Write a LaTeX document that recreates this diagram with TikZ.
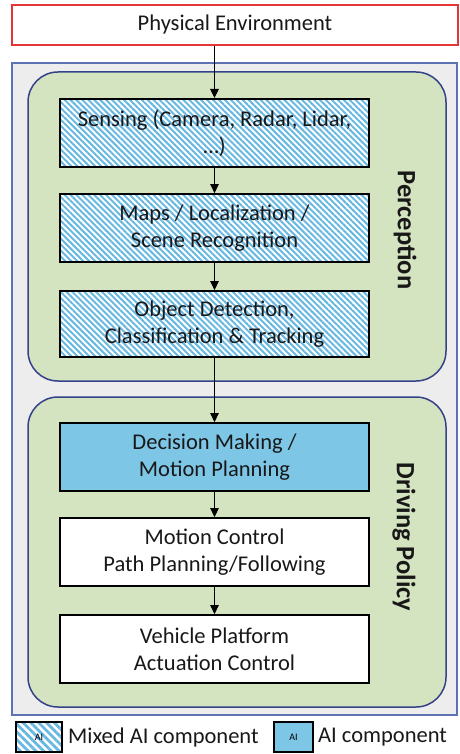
\documentclass[tikz,border=0pt]{standalone}
\usepackage{fontspec}
\setmainfont{Carlito}
\usepackage{xcolor}
\usetikzlibrary{arrows.meta,positioning,patterns.meta}

\definecolor{envred}{RGB}{228,54,54}
\definecolor{bggray}{RGB}{237,237,237}
\definecolor{frameblue}{RGB}{92,114,178}
\definecolor{stagegreen}{RGB}{213,228,192}
\definecolor{stageblue}{RGB}{52,66,138}
\definecolor{aiblue}{RGB}{126,198,230}
\definecolor{hatchblue}{RGB}{104,184,226}
\definecolor{txtgray}{RGB}{24,24,24}

\begin{document}
\begin{tikzpicture}[x=1pt,y=-1pt,>={Triangle[length=9pt,width=8.5pt]},
    font=\fontsize{22.5}{27}\selectfont,
    stagebox/.style={draw=black,line width=1.8pt,minimum width=309pt,
      minimum height=68pt,align=center,inner sep=2pt,text=txtgray},
    plainbox/.style={stagebox,fill=white},
    aibox/.style={stagebox,fill=aiblue},
    mixedbox/.style={stagebox,preaction={fill=white},
      pattern={Lines[angle=-45,distance=4.2pt,line width=2pt]},
      pattern color=hatchblue},
    grouplabel/.style={rotate=-90,font=\fontsize{26.5}{30}\selectfont\bfseries,
      text=txtgray},
    flow/.style={->,line width=1.2pt}]
    \useasboundingbox (0,0) rectangle (459,754);
    % background frame and the two stages
    \filldraw[fill=bggray,draw=frameblue,line width=1.2pt] (12,63) rectangle (457,715);
    \filldraw[fill=stagegreen,draw=stageblue,line width=1.5pt,rounded corners=30pt]
      (28,72) rectangle (446,381);
    \filldraw[fill=stagegreen,draw=stageblue,line width=1.5pt,rounded corners=30pt]
      (28,397) rectangle (446,707);

    \node[draw=envred,line width=2pt,fill=white,minimum width=446pt,
      minimum height=40pt,inner sep=0pt,text=txtgray] (env) at (235,25)
      {Physical Environment};

    \node[mixedbox] (sense) at (214.5,133) {Sensing (Camera, Radar, Lidar,\\ \ldots)};
    \node[mixedbox] (maps) at (214.5,228) {Maps / Localization /\\ Scene Recognition};
    \node[mixedbox,minimum height=66pt] (objdet) at (214.5,324)
      {Object Detection,\\ Classification \& Tracking};
    \node[aibox] (decide) at (214.5,457) {Decision Making /\\ Motion Planning};
    \node[plainbox] (ctrl) at (214.5,552) {Motion Control\\ Path Planning/Following};
    \node[plainbox] (vehicle) at (214.5,649) {Vehicle Platform\\ Actuation Control};

    \node[grouplabel] (perc) at (405,230) {Perception};
    \node[grouplabel] (policy) at (404,537) {Driving Policy};

    \draw[flow] (sense.north |- env.south) -- (sense);
    \draw[flow] (sense) -- (maps);
    \draw[flow] (maps) -- (objdet);
    \draw[flow] (objdet) -- (decide);
    \draw[flow] (decide) -- (ctrl);
    \draw[flow] (ctrl) -- (vehicle);

    % legend
    \node[draw=black,line width=1.5pt,minimum width=46pt,minimum height=30pt,
      inner sep=0pt,preaction={fill=white},
      pattern={Lines[angle=-45,distance=5.5pt,line width=2.8pt]},
      pattern color=hatchblue,font=\fontsize{10}{11}\selectfont] (mixkey) at (39,737) {AI};
    \node[anchor=west,font=\fontsize{22.5}{27}\selectfont,text=txtgray,inner sep=0pt]
      (mixtext) at (68,737) {Mixed AI component};
    \node[draw=black,line width=1.5pt,fill=aiblue,minimum width=39pt,minimum height=30pt,
      inner sep=0pt,font=\fontsize{10}{11}\selectfont] (aikey) at (293.5,737) {AI};
    \node[anchor=west,font=\fontsize{22.5}{27}\selectfont,text=txtgray,inner sep=0pt]
      (aitext) at (318,737) {AI component};
\end{tikzpicture}
\end{document}
